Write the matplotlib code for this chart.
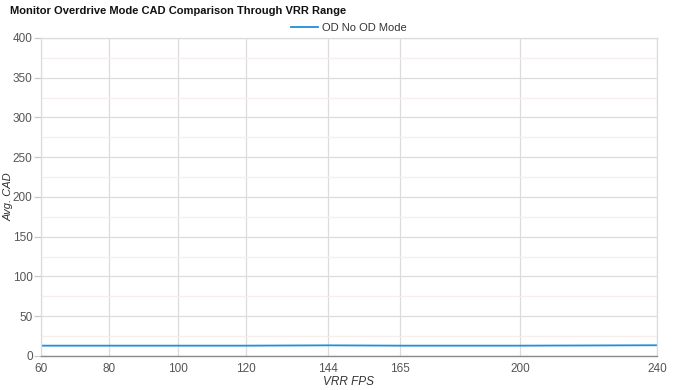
import numpy as np
import matplotlib
matplotlib.use("Agg")
from matplotlib import pyplot as plt
from matplotlib.ticker import MultipleLocator

# values
fps = [60, 80, 100, 120, 144, 165, 200, 240]
cad_od_no = [13.0, 13.0, 13.0, 13.0, 13.4, 13.0, 13.0, 13.5]
x_ticks = [60, 80, 100, 120, 144, 165, 200, 240]

plt.rcParams['font.family'] = ['Liberation Sans', 'DejaVu Sans']

fig = plt.figure(figsize=(6.75, 3.9), dpi=100)
ax = fig.add_axes([0.0607, 0.0872, 0.9126, 0.8154])

ax.plot(fps, cad_od_no, color='#1e90dc', lw=1.3, label='OD No OD Mode')

ax.set_xlim(60, 240)
ax.set_ylim(0, 400)
ax.set_xticks(x_ticks)
ax.yaxis.set_major_locator(MultipleLocator(50))
ax.yaxis.set_minor_locator(MultipleLocator(25))

ax.grid(which='major', color='#dcdcdc', lw=0.9)
ax.grid(which='minor', axis='y', color='#f6eded', lw=0.9)
ax.set_axisbelow(True)

for side in ['top', 'right', 'left']:
    ax.spines[side].set_color('#dcdcdc')
    ax.spines[side].set_linewidth(0.9)
ax.spines['bottom'].set_color('#8a8a8a')
ax.spines['bottom'].set_linewidth(1.0)

ax.tick_params(axis='x', length=0, pad=5, labelsize=8.5, labelcolor='#555555')
ax.tick_params(axis='y', which='major', length=5, width=0.9, color='#c8c8c8',
               pad=1, labelsize=8.5, labelcolor='#555555')
ax.tick_params(axis='y', which='minor', length=0)

ax.set_xlabel('VRR FPS', fontstyle='italic', fontsize=8.5, color='#333333', labelpad=1)
ax.set_ylabel('Avg. CAD', fontstyle='italic', fontsize=8, color='#333333')
ax.yaxis.set_label_coords(-27 / 616, 0.5)

fig.text(10 / 675, 1 - 11 / 390, 'Monitor Overdrive Mode CAD Comparison Through VRR Range',
         fontsize=8, fontweight='bold', color='#111111', ha='left', va='center')

ax.legend(loc='center', bbox_to_anchor=(0.5, 1 + 10 / 318), frameon=False,
          fontsize=8, handlelength=2.4, handletextpad=0.4, borderpad=0,
          labelcolor='#333333')

fig.savefig('out.png', dpi=100)
